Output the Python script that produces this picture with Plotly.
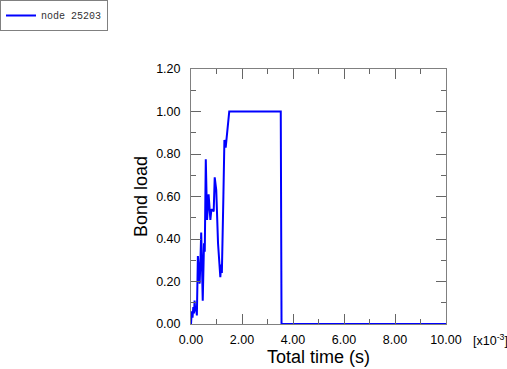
import plotly.graph_objects as go

# time in units of 1e-3 s
time_ms = [0.00, 0.03, 0.06, 0.09, 0.12, 0.14, 0.17, 0.20, 0.23, 0.27, 0.31, 0.34, 0.37, 0.40,
           0.43, 0.46, 0.51, 0.54, 0.58, 0.63, 0.69, 0.76, 0.80, 0.89, 0.93, 0.99, 1.06, 1.15,
           1.18, 1.21, 1.27, 1.31, 1.36, 1.50, 3.52, 3.55, 10.00]
bond_load = [0.00, 0.06, 0.03, 0.08, 0.05, 0.11, 0.06, 0.08, 0.04, 0.32, 0.25, 0.19, 0.30, 0.43,
             0.28, 0.11, 0.38, 0.34, 0.775, 0.49, 0.61, 0.49, 0.54, 0.53, 0.69, 0.63, 0.38, 0.22,
             0.28, 0.24, 0.60, 0.866, 0.83, 1.00, 1.00, 0.00, 0.00]
series_name = "node 25203"

x_major = [0, 2, 4, 6, 8, 10]
y_major = [0.0, 0.2, 0.4, 0.6, 0.8, 1.0, 1.2]

fig = go.Figure()
fig.add_trace(go.Scatter(x=time_ms, y=bond_load, mode="lines", name=series_name,
                         line=dict(color="#0000ff", width=2)))

axis_common = dict(showline=True, linecolor="#808080", linewidth=1, mirror="allticks",
                   ticks="inside", ticklen=10, tickcolor="#666666", tickwidth=1,
                   showgrid=False, zeroline=False,
                   tickfont=dict(family="Liberation Sans, Arial", size=12.5, color="black"))

fig.update_xaxes(range=[0, 10], tickvals=x_major, ticktext=[f"{v:.2f}" for v in x_major],
                 minor=dict(ticks="inside", ticklen=5, tickcolor="#666666", dtick=1, showgrid=False),
                 title=dict(text="Total time (s)", font=dict(family="Liberation Sans, Arial", size=18, color="black"),
                            standoff=3),
                 ticklabelstandoff=4,
                 **axis_common)
fig.update_yaxes(range=[0, 1.2], tickvals=y_major, ticktext=[f"{v:.2f}" for v in y_major],
                 minor=dict(ticks="inside", ticklen=5, tickcolor="#666666", dtick=0.1, showgrid=False),
                 title=dict(text="Bond load", font=dict(family="Liberation Sans, Arial", size=18, color="black"),
                            standoff=3),
                 ticklabelstandoff=7,
                 **axis_common)

fig.add_annotation(text="[x10<sup>-3</sup>]", xref="paper", yref="paper", x=1 + 25/255, y=0,
                   xanchor="left", yanchor="top", yshift=-6, showarrow=False,
                   font=dict(family="Liberation Sans, Arial", size=12.5, color="black"))

fig.update_layout(
    width=507, height=369,
    margin=dict(l=191, r=61, t=69, b=45, autoexpand=False),
    paper_bgcolor="white", plot_bgcolor="white",
    showlegend=True,
    legend=dict(x=-191/255, y=1 + 69/255, xanchor="left", yanchor="top",
                bordercolor="#808080", borderwidth=1, bgcolor="white",
                font=dict(family="Liberation Mono, Courier New", size=10, color="#333333"),
                itemwidth=30),
)

fig.write_html("out.html", config={"displayModeBar": False},
               post_script="document.body.style.margin='0';")
